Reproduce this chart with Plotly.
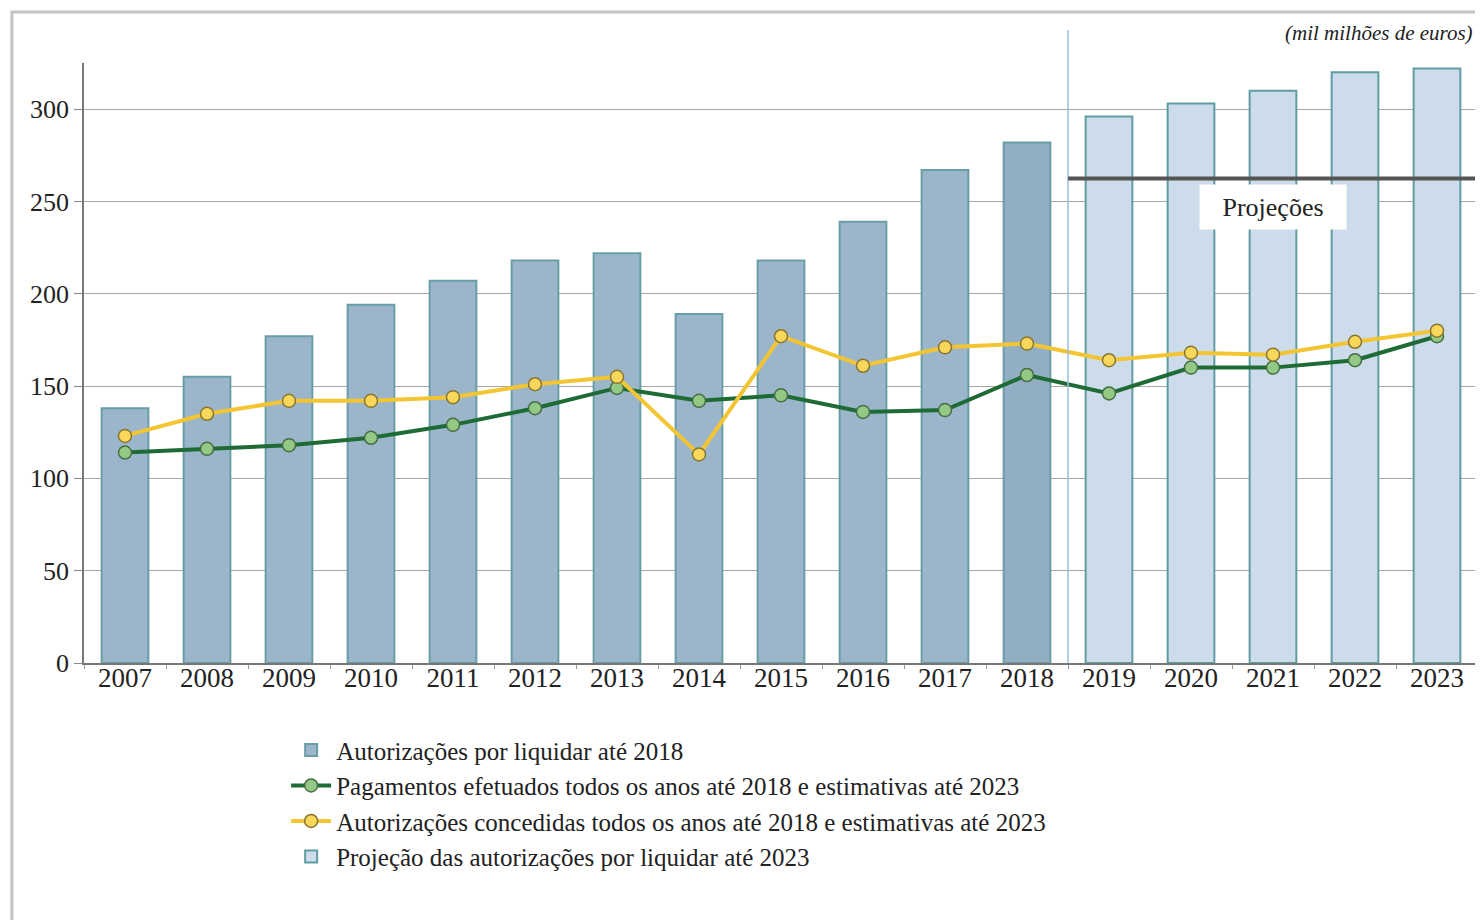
import plotly.graph_objects as go

years = ["2007", "2008", "2009", "2010", "2011", "2012", "2013", "2014", "2015",
         "2016", "2017", "2018", "2019", "2020", "2021", "2022", "2023"]
hist_years = years[:12]
proj_years = years[12:]
por_liquidar = [138, 155, 177, 194, 207, 218, 222, 189, 218, 239, 267, 282]
projecao = [296, 303, 310, 320, 322]
pagamentos = [114, 116, 118, 122, 129, 138, 149, 142, 145, 136, 137, 156,
              146, 160, 160, 164, 177]
concedidas = [123, 135, 142, 142, 144, 151, 155, 113, 177, 161, 171, 173,
              164, 168, 167, 174, 180]
projection_level = 262.5
label_year_index = 14
label_value = 247

FONT = "Liberation Serif, DejaVu Serif, serif"
Y_MAX = 325

hist_colors = ["#9bb6cb"] * 11 + ["#91aec3"]

fig = go.Figure()
fig.add_trace(go.Bar(
    x=hist_years, y=por_liquidar, name="Autorizações por liquidar até 2018",
    marker=dict(color=hist_colors, line=dict(color="#6a9ea6", width=2)),
    width=0.57, legendrank=1,
))
fig.add_trace(go.Bar(
    x=proj_years, y=projecao, name="Projeção das autorizações por liquidar até 2023",
    marker=dict(color="#cddcea", line=dict(color="#5f9ca3", width=2)),
    width=0.57, legendrank=4,
))
fig.add_trace(go.Scatter(
    x=years, y=pagamentos, mode="lines+markers",
    name="Pagamentos efetuados todos os anos até 2018 e estimativas até 2023",
    line=dict(color="#1f6b35", width=4),
    marker=dict(size=13, color="#93c985", line=dict(color="#456e45", width=1.5)),
    legendrank=2,
))
fig.add_trace(go.Scatter(
    x=years, y=concedidas, mode="lines+markers",
    name="Autorizações concedidas todos os anos até 2018 e estimativas até 2023",
    line=dict(color="#f4c533", width=4),
    marker=dict(size=13, color="#f8d75a", line=dict(color="#8a7530", width=1.5)),
    legendrank=3,
))

n = len(years)
sep_paper = (11.5 + 0.5) / n
fig.add_shape(type="line", xref="paper", yref="paper",
              x0=sep_paper, x1=sep_paper, y0=0, y1=1.055,
              line=dict(color="#9cbfe0", width=1.5))
fig.add_shape(type="line", xref="paper", yref="paper",
              x0=sep_paper, x1=1.01, y0=projection_level / Y_MAX, y1=projection_level / Y_MAX,
              line=dict(color="#555555", width=4))
fig.add_shape(type="rect", xref="paper", yref="paper",
              x0=-0.0517, x1=1.1, y0=-0.6, y1=1.085,
              line=dict(color="#c4c4c4", width=3), layer="below")

fig.add_annotation(xref="x", yref="y", x=label_year_index, y=label_value,
                   text="Projeções", showarrow=False,
                   bgcolor="white", borderpad=8, width=130, height=28,
                   font=dict(family=FONT, size=26, color="#222"))
fig.add_annotation(xref="paper", yref="paper", x=0.998, y=1.05,
                   xanchor="right", yanchor="middle",
                   text="<i>(mil milhões de euros)</i>", showarrow=False,
                   font=dict(family=FONT, size=21, color="#222"))

fig.update_layout(
    width=1475, height=912,
    margin=dict(l=76, r=5, t=55, b=257),
    paper_bgcolor="white", plot_bgcolor="white",
    font=dict(family=FONT, size=23, color="#222"),
    showlegend=True,
    legend=dict(x=0.145, y=-0.107, xanchor="left", yanchor="top",
                font=dict(family=FONT, size=25, color="#222"),
                traceorder="normal", tracegroupgap=0, itemwidth=40,
                bgcolor="rgba(0,0,0,0)"),
    xaxis=dict(type="category", categoryorder="array", categoryarray=years,
               range=[-0.5, n - 0.5], showgrid=False,
               showline=True, linecolor="#777", linewidth=1.5,
               ticks="outside", tickson="boundaries", ticklen=4, tickcolor="#999",
               ticklabelstandoff=-10,
               tickfont=dict(family=FONT, size=27, color="#222")),
    yaxis=dict(range=[0, Y_MAX], tickvals=[0, 50, 100, 150, 200, 250, 300],
               showgrid=True, gridcolor="#a8a8a8", gridwidth=1,
               showline=True, linecolor="#777", linewidth=1.5,
               ticks="outside", ticklen=8, tickcolor="#888",
               zeroline=False,
               tickfont=dict(family=FONT, size=26, color="#222")),
)

fig.write_html("out.html")
